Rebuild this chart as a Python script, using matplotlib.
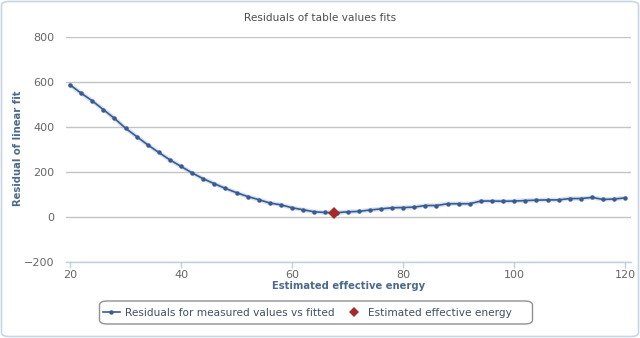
import matplotlib
matplotlib.use("Agg")
import matplotlib.pyplot as plt
from matplotlib.patches import FancyBboxPatch
from matplotlib.lines import Line2D

# Residuals of the linear fit for each candidate effective energy
energy = list(range(20, 121, 2))
residual = [587, 550, 516, 477, 438, 394, 357, 320, 286, 253, 224, 195,
            169, 147, 126, 107, 90, 76, 61, 53, 40, 31, 22, 19, 18, 22,
            24, 30, 35, 40, 41, 43, 50, 50, 58, 58, 58, 70, 70, 69, 70,
            72, 74, 75, 75, 81, 81, 86, 77, 79, 84]

# Best estimate of effective energy
best_energy = [67.6]
best_residual = [18]

x_ticks = [20, 40, 60, 80, 100, 120]
y_ticks = [-200, 0, 200, 400, 600, 800]

W, H = 640, 338
plt.rcParams['font.family'] = ['DejaVu Sans']
fig = plt.figure(figsize=(W / 100, H / 100), dpi=100, facecolor='white')

# Rounded outer frame
frame = FancyBboxPatch((1.5 / W, 1.5 / H), (W - 3) / W, (H - 3) / H,
                       boxstyle="round,pad=0,rounding_size=0.012",
                       transform=fig.transFigure, facecolor='none',
                       edgecolor='#c9d6e3', linewidth=1.2, zorder=-1)
fig.patches.append(frame)

left, right = 65.7, 630.7
top, bottom = 37, 261.7
ax = fig.add_axes([left / W, 1 - bottom / H, (right - left) / W, (bottom - top) / H])
ax.set_facecolor('none')

line_color = '#3a5b90'
# soft halo under the series line
ax.plot(energy, residual, color='#a8c0dc', lw=3.2, alpha=0.45,
        solid_capstyle='round', zorder=2)
ax.plot(energy, residual, color=line_color, lw=1.2, marker='o',
        markersize=3.2, markeredgewidth=0, zorder=3)
ax.plot(best_energy, best_residual, linestyle='none', marker='D',
        markersize=6, color='#a52a2a', markeredgewidth=0, zorder=4)

px_per_unit = (625.3 - 70) / 100
ax.set_xlim(20 - (70 - left) / px_per_unit, 120 + (right - 625.3) / px_per_unit)
ax.set_ylim(-200, 800)
ax.set_xticks(x_ticks)
ax.set_yticks(y_ticks)

ax.grid(axis='y', color='#c4c4c4', linewidth=1.0)
ax.set_axisbelow(True)
for s in ['top', 'right', 'left']:
    ax.spines[s].set_visible(False)
ax.spines['bottom'].set_color('#c0d0e0')
ax.spines['bottom'].set_linewidth(1.0)

ax.tick_params(axis='x', colors='#c0d0e0', labelcolor='#666666', labelsize=8,
               length=4, width=1, pad=2)
ax.tick_params(axis='y', length=0, labelcolor='#666666', labelsize=8, pad=8)

axis_title_color = '#4d6a8a'
fig.text((left + right) / 2 / W, 1 - 286 / H, 'Estimated effective energy',
         ha='center', va='center', fontsize=7.2, fontweight='bold',
         color=axis_title_color)
fig.text(18 / W, 1 - 148 / H, 'Residual of linear fit', ha='center',
         va='center', rotation=90, fontsize=7.2, fontweight='bold',
         color=axis_title_color)

fig.text(0.5, 1 - 18 / H, 'Residuals of table values fits', ha='center',
         va='center', fontsize=7.6, color='#4d4d4d')

# Legend box
lx0, lx1, ly0, ly1 = 99.5, 532.5, 301, 324
legend_box = FancyBboxPatch((lx0 / W, 1 - ly1 / H), (lx1 - lx0) / W, (ly1 - ly0) / H,
                            boxstyle="round,pad=0,rounding_size=0.012",
                            transform=fig.transFigure, facecolor='white',
                            edgecolor='#909090', linewidth=1.0, zorder=1)
fig.patches.append(legend_box)

handles = [
    Line2D([0], [0], color=line_color, lw=1.2, marker='o', markersize=3.2,
           markeredgewidth=0),
    Line2D([0], [0], linestyle='none', marker='D', markersize=5.5,
           color='#a52a2a', markeredgewidth=0),
]
labels = ['Residuals for measured values vs fitted', 'Estimated effective energy']
leg = fig.legend(handles, labels, loc='center left', ncol=2,
                 bbox_to_anchor=(103 / W, 1 - 312.5 / H), fontsize=7.6,
                 frameon=False, handlelength=1.6, borderpad=0, borderaxespad=0,
                 handletextpad=0.45, columnspacing=1.1,
                 labelcolor='#3e4f66')
leg.set_zorder(2)

fig.savefig('out.png', dpi=100)
